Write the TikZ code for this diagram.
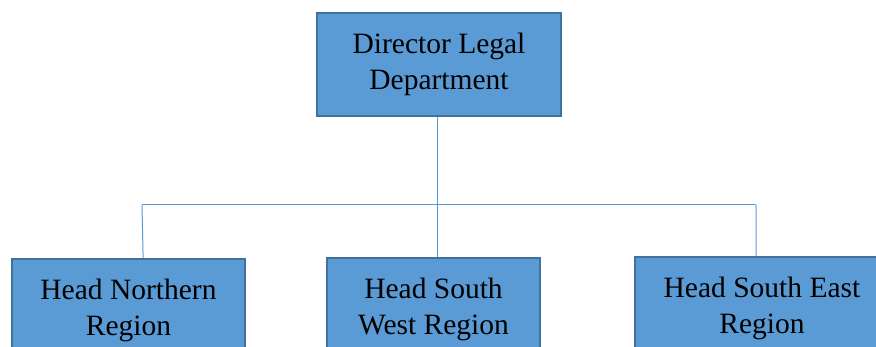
\documentclass[tikz,border=0pt]{standalone}
\usepackage{fontspec}
\setmainfont{Liberation Serif}
\usetikzlibrary{calc}
\definecolor{boxfill}{HTML}{5B9BD5}
\definecolor{boxline}{HTML}{41719C}
\definecolor{conn}{HTML}{5B9BD5}
\tikzset{
  orgbox/.style={draw=boxline, line width=1.8pt, fill=boxfill, inner sep=0pt,
    align=center, font=\fontsize{29.5}{36}\selectfont},
  link/.style={draw=conn, line width=1pt}
}
\begin{document}
\begin{tikzpicture}[x=1pt,y=-1pt]
\useasboundingbox (0,0) rectangle (876,347);
\clip (0,0) rectangle (876,347);
\node[orgbox, minimum width=244pt, minimum height=103pt] (dir) at (439,64.5) {Director Legal\\Department};
\node[orgbox, minimum width=233pt, minimum height=102pt] (hn) at (128.5,310) {Head Northern\\Region};
\node[orgbox, minimum width=213pt, minimum height=102pt] (hsw) at (433.5,309) {Head South\\West Region};
\node[orgbox, minimum width=254pt, minimum height=102pt] (hse) at (762,308) {Head South East\\Region};
\coordinate (jc) at (437,205);
\coordinate (jl) at (142,205);
\coordinate (jr) at (756,205);
\draw[link] (dir.south -| jc) -- (jc);
\draw[link] (jl) -- (jr);
\draw[link] (jl) -- ($(hn.north west)+(132,0)$);
\draw[link] (jc) -- (hsw.north -| jc);
\draw[link] (jr) -- ($(hse.north west)+(122,0)$);
\end{tikzpicture}
\end{document}
